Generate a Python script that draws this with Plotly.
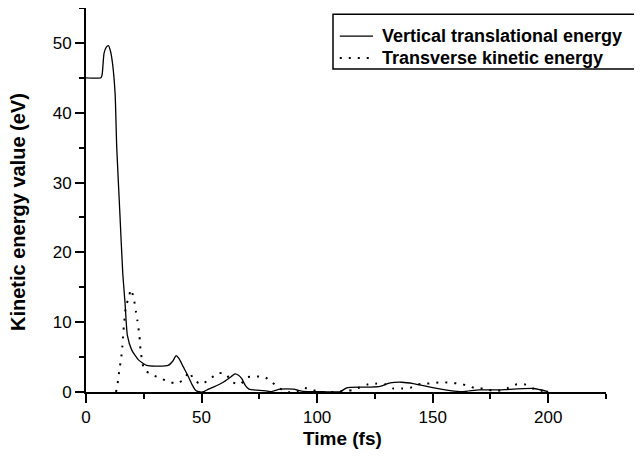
import plotly.graph_objects as go

# Vertical translational energy (solid)
vert_t = [0, 6.5, 7.0, 7.8, 8.8, 9.7, 10.6, 11.5, 12.6, 13.3, 14.6, 15.9, 16.9, 17.9, 19.8,
          22.7, 26.3, 30, 35.6, 37.5, 39, 40.2, 42.1, 44, 46, 47.5, 49.5, 51, 53, 55.1,
          59.4, 62, 64.5, 66, 67.4, 69, 70.5, 76.8, 80, 84, 89.7, 94, 100, 110, 112.8,
          118.6, 123, 127.3, 131.6, 136.7, 141.7, 148.9, 157.6, 163, 170, 179, 182, 193.6, 200]
vert_e = [45, 45, 45.5, 48.5, 49.4, 49.6, 48.8, 47, 42.7, 35, 26, 17, 12.7, 8.1, 6.0,
          4.6, 3.8, 3.7, 3.8, 4.4, 5.2, 4.8, 3.6, 2.4, 1.0, 0.2, 0.0, 0.05, 0.4, 0.7,
          1.4, 2.0, 2.6, 2.4, 1.9, 0.9, 0.4, 0.2, 0.05, 0.4, 0.4, 0.1, 0.05, 0.05, 0.6,
          0.7, 0.7, 0.8, 1.3, 1.4, 1.2, 0.7, 0.2, 0.05, 0.3, 0.3, 0.35, 0.5, 0.05]

# Transverse kinetic energy (dotted)
trans_t = [13, 14, 14.4, 15.2, 15.7, 16.1, 16.5, 17.3, 18.6, 19.3, 20.5, 21.6, 22.2, 23.1,
           23.7, 25.2, 28.4, 32, 35.6, 39.3, 42.3, 44.7, 46.5, 49.8, 53.4, 57, 60.4, 63.3,
           66.8, 69.7, 73.3, 77.1, 80.4, 83.5, 86.6, 90.9, 93.8, 97.3, 101, 105, 108.2,
           115.4, 122.2, 125.5, 129.4, 133, 136.7, 140.3, 143.9, 147.5, 150.8, 154.4, 158,
           161.6, 165.2, 168.8, 172, 175.6, 179.2, 182.8, 186.4, 189.7, 193.4, 196.8, 200]
trans_e = [0, 1.9, 3.1, 4.8, 6.4, 8.4, 9.8, 12.4, 13.5, 14.7, 13.7, 11.5, 10.3, 8.1,
           5.7, 3.2, 2.5, 2.0, 1.5, 1.2, 1.8, 2.9, 1.8, 1.1, 1.8, 2.7, 2.6, 1.4,
           1.1, 2.1, 2.2, 2.2, 1.4, 0.6, 0, 0, 0.6, 0.4, 0, 0, 0,
           0.3, 1.1, 1.2, 1.1, 0.5, 0.5, 0.6, 1.1, 1.2, 1.3, 1.4, 1.3,
           1.2, 0.9, 0.5, 0.5, 0.2, 0.2, 0.6, 1.1, 1.1, 0.5, 0.2, 0]

series_names = ["Vertical translational energy", "Transverse kinetic energy"]
x_ticks = [0, 50, 100, 150, 200]
y_ticks = [0, 10, 20, 30, 40, 50]

FONT = "Arial, Liberation Sans, sans-serif"
DOT = "2px,7px"

fig = go.Figure()
fig.add_trace(go.Scatter(x=vert_t, y=vert_e, mode="lines", name=series_names[0], showlegend=False,
                         line=dict(color="black", width=1.3, shape="spline", smoothing=0.5)))
fig.add_trace(go.Scatter(x=trans_t, y=trans_e, mode="lines", name=series_names[1], showlegend=False,
                         line=dict(color="black", width=2, dash=DOT, shape="spline", smoothing=0.5)))

axis_common = dict(showgrid=False, zeroline=False, showline=True, linecolor="black", linewidth=1.8,
                   ticks="outside", ticklen=9, tickwidth=1.8, tickcolor="black",
                   tickfont=dict(family=FONT, size=17, color="black"))

fig.update_xaxes(range=[0, 225], tickvals=x_ticks,
                 minor=dict(ticks="outside", ticklen=5, tickwidth=1.8, tickcolor="black", dtick=25, tick0=0),
                 **axis_common)
fig.update_yaxes(range=[0, 55], tickvals=y_ticks,
                 minor=dict(ticks="outside", ticklen=5, tickwidth=1.8, tickcolor="black", dtick=5, tick0=0),
                 **axis_common)

fig.add_annotation(text="Time (fs)", xref="paper", yref="paper", x=0.494, y=0, yshift=-46,
                   xanchor="center", yanchor="middle", showarrow=False,
                   font=dict(family=FONT, size=19, color="black", weight="bold"))
fig.add_annotation(text="Kinetic energy value (eV)", xref="paper", yref="paper", x=0, xshift=-68,
                   y=0.5, yshift=-12, textangle=-90, xanchor="center", yanchor="middle", showarrow=False,
                   font=dict(family=FONT, size=20, color="black", weight="bold"))

# Legend box drawn manually (paper coordinates)
fig.add_shape(type="rect", xref="paper", yref="paper", x0=0.475, x1=1.066, y0=0.841, y1=0.984,
              line=dict(color="black", width=1.5), fillcolor="white", layer="above")
rows_y = [0.927, 0.870]
dashes = ["solid", DOT]
widths = [1.3, 2]
for name, ry, d, w in zip(series_names, rows_y, dashes, widths):
    fig.add_shape(type="line", xref="paper", yref="paper", x0=0.488, x1=0.552, y0=ry, y1=ry,
                  line=dict(color="black", width=w, dash=d), layer="above")
    fig.add_annotation(text=name, xref="paper", yref="paper", x=0.565, y=ry,
                       xanchor="left", yanchor="middle", showarrow=False,
                       font=dict(family=FONT, size=18, color="black", weight="bold"))

fig.update_layout(
    width=634, height=443,
    margin=dict(l=78, r=36, t=0, b=59),
    plot_bgcolor="white", paper_bgcolor="white",
    showlegend=False,
)

fig.write_html("out.html")
